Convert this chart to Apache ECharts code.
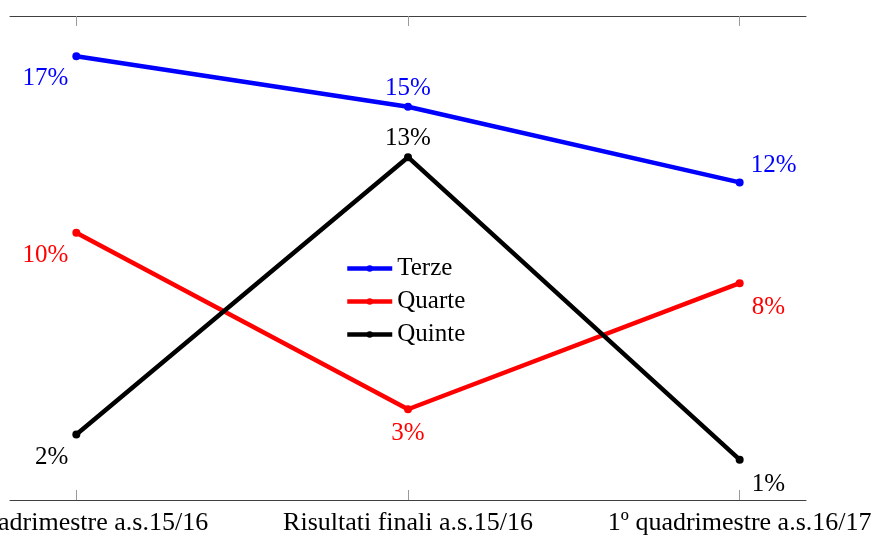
<!DOCTYPE html>
<html>
<head>
<meta charset="utf-8">
<script src="https://cdn.jsdelivr.net/npm/echarts@6/dist/echarts.min.js"></script>
<style>html,body{margin:0;padding:0;background:#fff}#c{width:894px;height:535px}</style>
</head>
<body>
<div id="c"></div>
<script>
const categories = ["1º quadrimestre a.s.15/16", "Risultati finali a.s.15/16", "1º quadrimestre a.s.16/17"];
const seriesNames = ["Terze", "Quarte", "Quinte"];
const terze = [17, 15, 12];
const quarte = [10, 3, 8];
const quinte = [2, 13, 1];

const FONT = "Liberation Serif";
const FS = 25;
const colors = ["#0000ff", "#ff0000", "#000000"];
// label placements per series per point: 'lb' left-below, 'a' above, 'ra' right-above, 'b' below, 'rb' right-below
const placements = [["lb", "a", "ra"], ["lb", "b", "rb"], ["lb", "a", "rb"]];
const placeStyle = {
  lb: {align: "right", verticalAlign: "top", offset: [-8, 10]},
  a: {align: "center", verticalAlign: "bottom", offset: [0, -6]},
  ra: {align: "left", verticalAlign: "bottom", offset: [11, -4]},
  b: {align: "center", verticalAlign: "top", offset: [0, 12]},
  rb: {align: "left", verticalAlign: "top", offset: [12, 12]}
};
const values = [terze, quarte, quinte];

const series = values.map((vals, si) => ({
  name: seriesNames[si],
  type: "line",
  data: vals.map((v, i) => ({
    value: [i, v],
    label: Object.assign({show: true, position: "inside", formatter: v + "%"}, placeStyle[placements[si][i]])
  })),
  color: colors[si],
  lineStyle: {width: 4.5, color: colors[si]},
  symbol: "circle",
  symbolSize: 8,
  itemStyle: {color: colors[si]},
  label: {color: colors[si], fontFamily: FONT, fontSize: FS},
  emphasis: {disabled: true},
  animation: false
}));

const xCommon = {
  type: "value", min: -0.2, max: 2.2,
  splitLine: {show: false},
  axisLine: {show: true, onZero: false, lineStyle: {color: "#404040", width: 1}},
  axisTick: {show: true, inside: true, length: 10, customValues: [0, 1, 2], lineStyle: {color: "#9a9a9a", width: 1}}
};

const chart = echarts.init(document.getElementById("c"));
chart.setOption({
  animation: false,
  grid: {left: 10, right: 88, top: 16, bottom: 35, containLabel: false, outerBoundsMode: "none"},
  xAxis: [
    Object.assign({}, xCommon, {
      position: "bottom",
      axisLabel: {show: true, customValues: [0, 1, 2], formatter: v => categories[Math.round(v)], color: "#000", fontFamily: FONT, fontSize: 26, margin: 10, hideOverlap: false}
    }),
    Object.assign({}, xCommon, {position: "top", axisLabel: {show: false}})
  ],
  yAxis: {type: "value", min: -0.6, max: 18.6, show: false},
  legend: {
    orient: "vertical", left: 340, top: 251,
    itemWidth: 45, itemHeight: 8, itemGap: 8,
    lineStyle: {width: 4.5},
    textStyle: {fontFamily: FONT, fontSize: FS, color: "#000"},
    data: seriesNames
  },
  series: series
});
</script>
</body>
</html>
